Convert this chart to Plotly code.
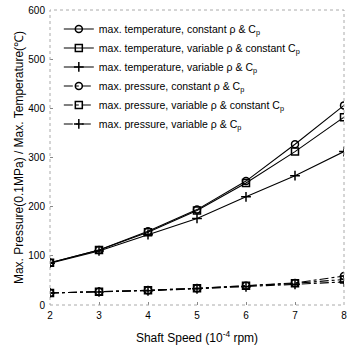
import plotly.graph_objects as go

speed = [2, 3, 4, 5, 6, 7, 8]
temp_const = [86, 112, 150, 194, 252, 327, 406]
temp_var_rho = [86, 112, 148, 192, 248, 312, 382]
temp_var_both = [85, 110, 143, 176, 220, 263, 312]
pres_const = [24.5, 27, 30, 34, 39, 45, 59]
pres_var_rho = [24.5, 27, 30, 34, 39, 44, 52]
pres_var_both = [24.5, 26.5, 29, 33, 37, 42, 47]

names = [
    "max. temperature, constant ρ & C<sub>p</sub>",
    "max. temperature, variable ρ & constant C<sub>p</sub>",
    "max. temperature, variable ρ & C<sub>p</sub>",
    "max. pressure, constant ρ & C<sub>p</sub>",
    "max. pressure, variable ρ & constant C<sub>p</sub>",
    "max. pressure, variable ρ & C<sub>p</sub>",
]
series = [temp_const, temp_var_rho, temp_var_both, pres_const, pres_var_rho, pres_var_both]
symbols = ["circle-open", "square-open", "cross-thin-open"] * 2
dashes = ["solid"] * 3 + ["dashdot"] * 3

fig = go.Figure()
for n, s, sym, d in zip(names, series, symbols, dashes):
    fig.add_trace(go.Scatter(
        x=speed, y=s, name=n, mode="lines+markers",
        line=dict(color="black", width=1.1, dash=d),
        marker=dict(symbol=sym, size=7, color="black", line=dict(width=1.5, color="black")),
    ))

fig.add_shape(type="rect", xref="paper", yref="paper", x0=0, y0=0, x1=1, y1=1,
              line=dict(color="#aaaaaa", width=1, dash="dot"))

fig.update_layout(
    width=348, height=345,
    margin=dict(l=50, r=4, t=10, b=40),
    paper_bgcolor="white", plot_bgcolor="white",
    font=dict(family="Liberation Sans, Arial, sans-serif", color="black", size=10),
    showlegend=True,
    legend=dict(x=0.03, y=0.985, xanchor="left", yanchor="top",
                bgcolor="rgba(0,0,0,0)", font=dict(size=10.5),
                tracegroupgap=0, itemwidth=30),
    xaxis=dict(range=[2, 8], tickvals=speed, ticks="inside", ticklen=3,
               tickcolor="#888888", showgrid=False, zeroline=False, showline=False,
               ticklabelstandoff=3, automargin=False,
               title=dict(text="Shaft Speed (10<sup>-4</sup> rpm)", font=dict(size=12), standoff=18)),
    yaxis=dict(range=[0, 600], tickvals=[0, 100, 200, 300, 400, 500, 600], ticks="inside",
               ticklen=3, tickcolor="#888888", showgrid=False, zeroline=False, showline=False,
               ticklabelstandoff=4, automargin=False,
               title=dict(text="Max. Pressure(0.1MPa) / Max. Temperature(℃)", font=dict(size=12), standoff=2)),
)

fig.write_html("out.html")
